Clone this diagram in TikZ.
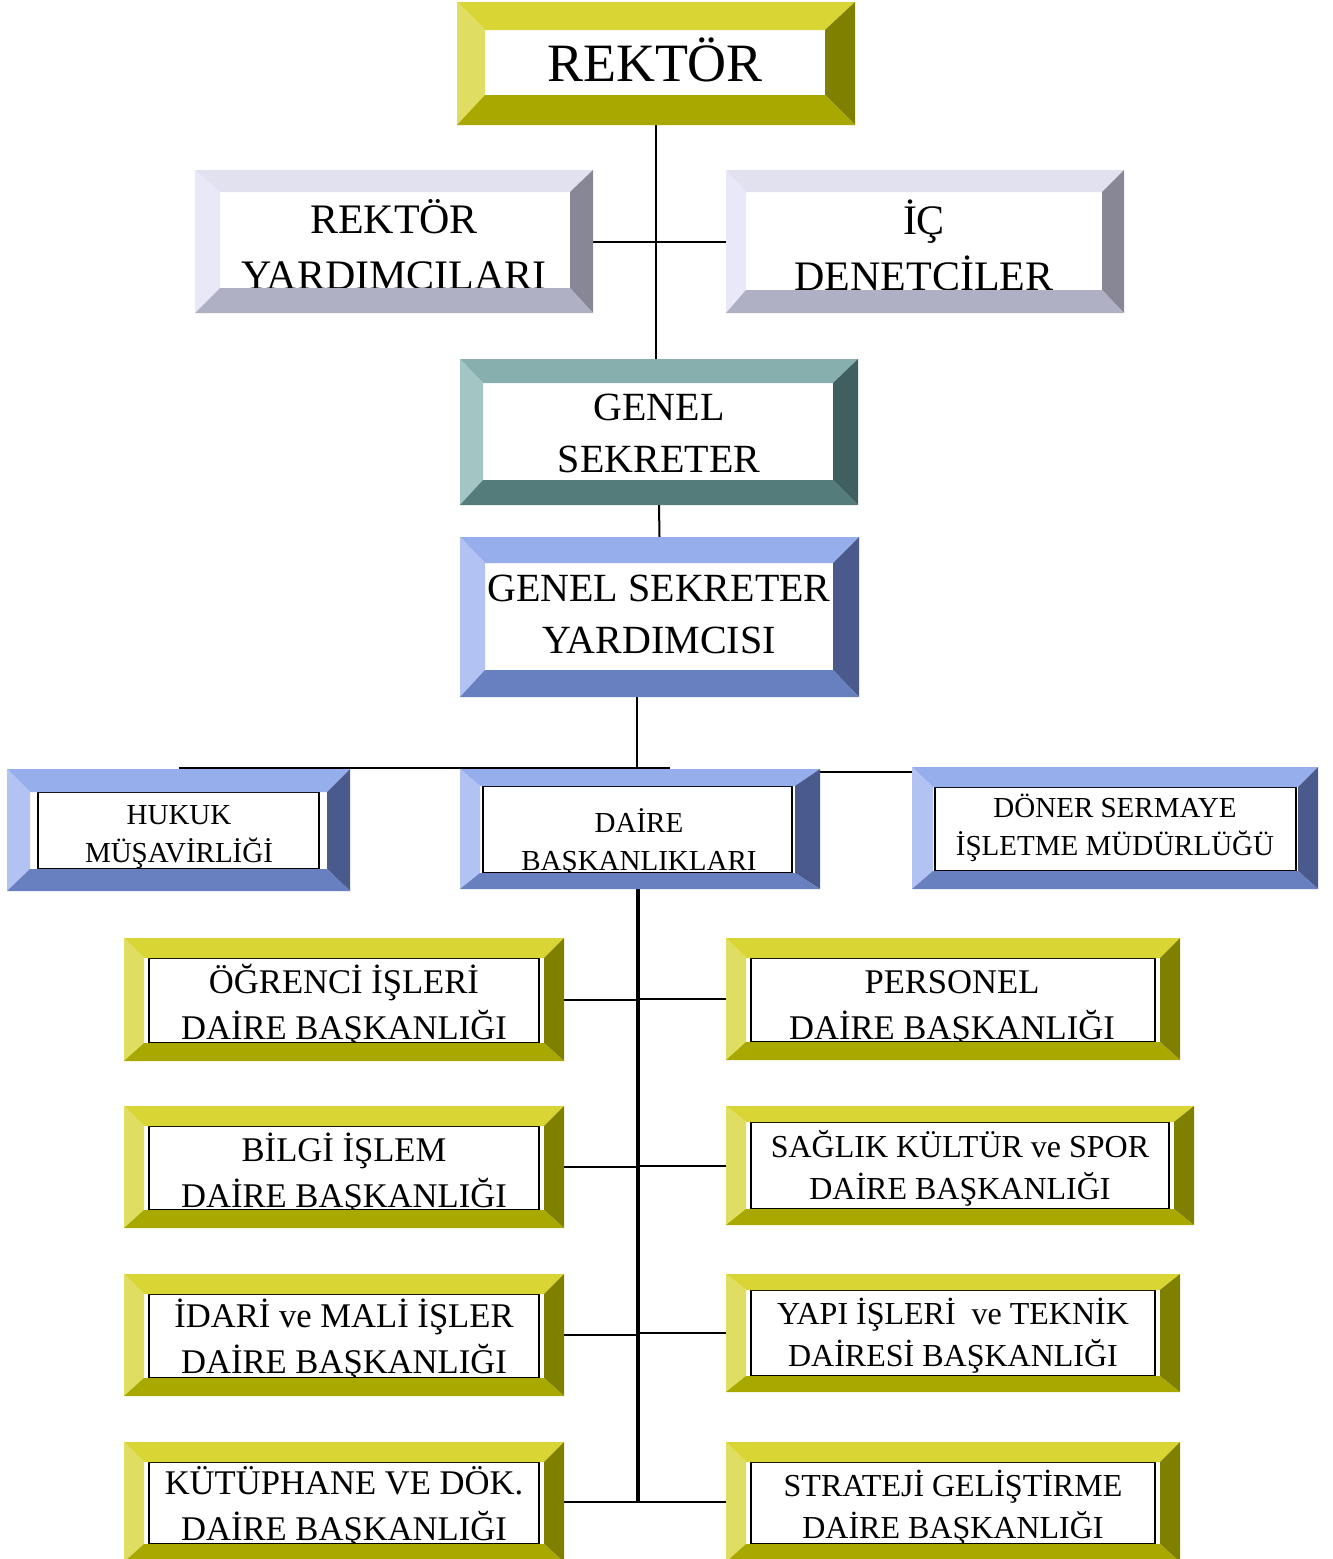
\documentclass[tikz,border=0pt]{standalone}
\usepackage{fontspec}
\setmainfont{Liberation Serif}
\usetikzlibrary{positioning,fit,calc}

\definecolor{yelT}{RGB}{216,213,53}
\definecolor{yelL}{RGB}{224,222,98}
\definecolor{yelR}{RGB}{128,128,0}
\definecolor{yelB}{RGB}{168,168,0}
\definecolor{lavT}{RGB}{225,225,240}
\definecolor{lavL}{RGB}{232,232,248}
\definecolor{lavR}{RGB}{135,135,150}
\definecolor{lavB}{RGB}{176,176,196}
\definecolor{tealT}{RGB}{134,175,173}
\definecolor{tealL}{RGB}{163,197,195}
\definecolor{tealR}{RGB}{63,96,94}
\definecolor{tealB}{RGB}{83,124,122}
\definecolor{bluT}{RGB}{151,174,236}
\definecolor{bluL}{RGB}{178,194,242}
\definecolor{bluR}{RGB}{74,90,140}
\definecolor{bluB}{RGB}{104,128,192}

\newcommand\fsbig{\fontsize{27}{32}\selectfont}
\newcommand\fsmid{\fontsize{21}{28}\selectfont}
\newcommand\fssec{\fontsize{20}{26}\selectfont}
\newcommand\fssmall{\fontsize{14.5}{19}\selectfont}
\newcommand\fsdept{\fontsize{17.3}{23}\selectfont}
\newcommand\fsdeptb{\fontsize{16}{21}\selectfont}

\tikzset{
  box/.style={inner sep=0pt, outer sep=0pt},
  lbl/.style={align=center, inner sep=0pt},
  link/.style={line width=1pt},
  trunk/.style={line width=2pt},
  inframe/.style={draw=black, line width=1pt},
}

% [gap of inner black frame]{node}{palette}{left}{top}{right}{bottom}
\newcommand\bevel[7][]{%
  \path (#2.north west) ++(#4,#5) coordinate (#2-a)
        (#2.south east) ++(-#6,-#7) coordinate (#2-b);
  \ifx\relax#1\relax\else
    \draw[inframe] ([shift={(#1,0)}]#2-a) rectangle ([shift={(-#1,0)}]#2-b);
  \fi
  \fill[#3T] (#2.north west) -- (#2.north east) -- (#2-b |- #2-a) -- (#2-a) -- cycle;
  \fill[#3L] (#2.north west) -- (#2-a) -- (#2-a |- #2-b) -- (#2.south west) -- cycle;
  \fill[#3R] (#2.north east) -- (#2.south east) -- (#2-b) -- (#2-b |- #2-a) -- cycle;
  \fill[#3B] (#2.south west) -- (#2-a |- #2-b) -- (#2-b) -- (#2.south east) -- cycle;
}

\begin{document}
\begin{tikzpicture}[x=0.5pt,y=-0.5pt]
  \clip (0,0) rectangle (1333,1559);

  \node[box, fit={(457,2) (855,125)}] (rektor) {};
  \node[box, fit={(195,170) (593,313)}] (ryard) {};
  \node[box, fit={(726,170) (1124,313)}] (icden) {};
  \node[box, fit={(460,359) (858,505)}] (gensek) {};
  \node[box, fit={(460,537) (859,697)}] (gsy) {};
  \node[box, fit={(7,769) (350,891)}] (hukuk) {};
  \node[box, fit={(460,769) (820,889)}] (daire) {};
  \node[box, fit={(912,767) (1318,889)}] (doner) {};
  \node[box, fit={(124,938) (564,1061)}] (ogr) {};
  \node[box, fit={(124,1106) (564,1228)}] (bilgi) {};
  \node[box, fit={(124,1274) (564,1396)}] (idari) {};
  \node[box, fit={(124,1442) (564,1562)}] (kutup) {};
  \node[box, fit={(726,938) (1180,1060)}] (personel) {};
  \node[box, fit={(726,1106) (1194,1225)}] (saglik) {};
  \node[box, fit={(726,1274) (1180,1392)}] (yapi) {};
  \node[box, fit={(726,1442) (1180,1562)}] (strat) {};

  \coordinate (gj) at (637,768);
  \coordinate (hj) at (670,768);
  \coordinate (dj) at ([shift={(0,3)}]daire.north east);
  \coordinate (tr) at (638,1502);

  \draw[link] (rektor.south) -- (rektor.south |- gensek.north);
  \draw[link] (ryard.east) -- (icden.west);
  \draw[link] (gensek.south) -- (gsy.north);
  \draw[link] (gsy.south -| gj) -- (gj);
  \draw[link] (hukuk.north |- gj) -- (hj);
  \draw[link] (dj) -- (dj -| doner.west);
  \draw[trunk] (daire.south -| tr) -- (tr);
  \foreach \l/\r in {ogr/personel, bilgi/saglik, idari/yapi, kutup/strat}
    \draw[link] (\l.east) -- (\l.east -| tr) (\r.west) -- (\r.west -| tr);

  \node[lbl, font=\fsbig] (rektor-t) at (655,60) {REKTÖR};
  \bevel{rektor}{yel}{28}{28}{30}{30}

  \node[lbl, font=\fsmid] (ryard-t) at (394,245) {REKTÖR\\YARDIMCILARI};
  \bevel{ryard}{lav}{25}{22}{23}{25}
  \node[lbl, font=\fsmid] (icden-t) at (924,245) {İÇ\\DENETCİLER};
  \bevel{icden}{lav}{20}{22}{22}{23}

  \node[lbl, font=\fssec] (gensek-t) at (659,433) {GENEL\\SEKRETER};
  \bevel{gensek}{teal}{23}{24}{25}{25}
  \node[lbl, font=\fssec] (gsy-t) at (659,614) {GENEL SEKRETER\\YARDIMCISI};
  \bevel{gsy}{blu}{25}{26}{26}{27}

  \node[lbl, font=\fssmall] (hukuk-t) at (179,837) {HUKUK\\MÜŞAVİRLİĞİ};
  \bevel[8]{hukuk}{blu}{23}{23}{23}{22}
  \node[lbl, font=\fssmall] (daire-t) at (639,843) {DAİRE\\BAŞKANLIKLARI};
  \bevel[3]{daire}{blu}{20}{17}{25}{16}
  \node[lbl, font=\fssmall] (doner-t) at (1115,828) {DÖNER SERMAYE\\İŞLETME MÜDÜRLÜĞÜ};
  \bevel[2]{doner}{blu}{21}{20}{20}{18}

  \node[lbl, font=\fsdept] (ogr-t) at (344,1006) {ÖĞRENCİ İŞLERİ\\DAİRE BAŞKANLIĞI};
  \bevel[5]{ogr}{yel}{20}{20}{20}{18}
  \node[lbl, font=\fsdept] (bilgi-t) at (344,1174) {BİLGİ İŞLEM\\DAİRE BAŞKANLIĞI};
  \bevel[5]{bilgi}{yel}{20}{20}{20}{18}
  \node[lbl, font=\fsdept] (idari-t) at (344,1340) {İDARİ ve MALİ İŞLER\\DAİRE BAŞKANLIĞI};
  \bevel[5]{idari}{yel}{20}{20}{20}{18}
  \node[lbl, font=\fsdept] (kutup-t) at (344,1507) {KÜTÜPHANE VE DÖK.\\DAİRE BAŞKANLIĞI};
  \bevel[5]{kutup}{yel}{20}{20}{20}{18}

  \node[lbl, font=\fsdept] (personel-t) at (952,1009) {PERSONEL\\DAİRE BAŞKANLIĞI};
  \bevel[5]{personel}{yel}{20}{20}{20}{18}
  \node[lbl, font=\fsdeptb] (saglik-t) at (960,1168) {SAĞLIK KÜLTÜR ve SPOR\\DAİRE BAŞKANLIĞI};
  \bevel[5]{saglik}{yel}{20}{16}{20}{16}
  \node[lbl, font=\fsdeptb] (yapi-t) at (953,1336) {YAPI İŞLERİ\ \ ve TEKNİK\\DAİRESİ BAŞKANLIĞI};
  \bevel[5]{yapi}{yel}{20}{16}{20}{16}
  \node[lbl, font=\fsdeptb] (strat-t) at (953,1508) {STRATEJİ GELİŞTİRME\\DAİRE BAŞKANLIĞI};
  \bevel[5]{strat}{yel}{20}{20}{20}{18}
\end{tikzpicture}
\end{document}
